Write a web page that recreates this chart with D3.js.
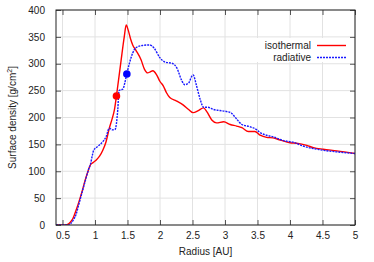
<!DOCTYPE html>
<html><head><meta charset="utf-8">
<script src="https://cdn.jsdelivr.net/npm/d3@7"></script>
<style>body{margin:0;background:#fff}svg{display:block;font-family:"Liberation Sans",Arial,sans-serif}</style>
</head><body><svg id="c" width="374" height="262"></svg>
<script>
const xTicks = [0.5,1,1.5,2,2.5,3,3.5,4,4.5,5];
const yTicks = [0,50,100,150,200,250,300,350,400];
const isoR = [0.40,0.55,0.58,0.62,0.66,0.71,0.75,0.80,0.85,0.90,0.93,0.97,1.02,1.07,1.12,1.17,1.22,1.26,1.30,1.33,1.40,1.45,1.48,1.51,1.55,1.58,1.63,1.71,1.76,1.81,1.85,1.89,1.95,2.00,2.05,2.10,2.15,2.25,2.36,2.44,2.51,2.59,2.67,2.72,2.80,2.87,2.98,3.08,3.18,3.26,3.36,3.46,3.54,3.64,3.74,3.85,4.00,4.10,4.26,4.36,4.51,4.72,5.00];
const isoV = [0,0,1,5,12,28,42,62,84,103,112,116,121,128,139,155,180,196,215,240,305,350,372,363,345,335,325,307,290,283,285,287,279,267,259,246,237,231,223,215,209,213,218,211,195,190,192,187,184,181,174,174,167,163,162,158,153,152,148,144,141,138,133];
const radR = [0.40,0.60,0.63,0.67,0.71,0.75,0.80,0.85,0.90,0.93,0.96,0.98,1.04,1.12,1.17,1.22,1.27,1.31,1.35,1.37,1.43,1.46,1.49,1.53,1.58,1.63,1.73,1.84,1.91,2.00,2.08,2.18,2.26,2.33,2.38,2.44,2.49,2.51,2.56,2.62,2.67,2.74,2.82,2.92,3.03,3.10,3.18,3.26,3.38,3.49,3.54,3.64,3.74,3.90,4.05,4.20,4.46,4.72,5.00];
const radV = [0,0,3,10,20,38,60,82,103,113,130,139,146,155,164,180,177,178,214,250,253,265,281,301,320,330,334,335,329,311,303,301,292,270,261,264,277,279,260,233,219,219,215,213,211,208,197,187,183,177,172,167,164,157,154,147,140,136,133];
const dots = [{r:1.33,v:240,c:"#ff0000"},{r:1.49,v:281,c:"#0000ff"}];
const seriesNames = ["isothermal","radiative"];

const L=56,R=355,T=10,B=225;
const svg=d3.select("#c");
const x=d3.scaleLinear().domain([0.4,5]).range([L,R]);
const y=d3.scaleLinear().domain([0,400]).range([B,T]);

// grid
const g=svg.append("g");
g.selectAll("line.vx").data(xTicks).join("line").attr("x1",d=>x(d)).attr("x2",d=>x(d)).attr("y1",T).attr("y2",B).attr("stroke","#e2e2e2").attr("stroke-width",1);
g.selectAll("line.hy").data(yTicks).join("line").attr("y1",d=>y(d)).attr("y2",d=>y(d)).attr("x1",L).attr("x2",R).attr("stroke","#e2e2e2").attr("stroke-width",1);

// axes (ticks inward)
const fmt=d=>String(d);
const ax=svg.append("g").attr("transform",`translate(0,${B})`).call(d3.axisBottom(x).tickValues(xTicks).tickFormat(fmt).tickSize(-5).tickPadding(7));
const axT=svg.append("g").attr("transform",`translate(0,${T})`).call(d3.axisTop(x).tickValues(xTicks).tickFormat("").tickSize(-5));
const ayL=svg.append("g").attr("transform",`translate(${L},0)`).call(d3.axisLeft(y).tickValues(yTicks).tickFormat(fmt).tickSize(-5).tickPadding(11));
const ayR=svg.append("g").attr("transform",`translate(${R},0)`).call(d3.axisRight(y).tickValues(yTicks).tickFormat("").tickSize(-5));
[ax,axT,ayL,ayR].forEach(a=>{a.select(".domain").remove();a.selectAll(".tick line").attr("stroke","#555");a.selectAll("text").attr("font-size",10).attr("fill","#222").attr("font-family","Liberation Sans, Arial, sans-serif");});

// legend box
svg.append("rect").attr("x",250).attr("y",38).attr("width",102).attr("height",24).attr("fill","#fff");

// lines
const line=d3.line().x(d=>x(d[0])).y(d=>y(d[1])).curve(d3.curveMonotoneX);
const clip=svg.append("clipPath").attr("id","cp").append("rect").attr("x",L).attr("y",T).attr("width",R-L).attr("height",B-T);
svg.append("path").datum(isoR.map((r,i)=>[r,isoV[i]])).attr("d",line).attr("fill","none").attr("stroke","#ff0000").attr("stroke-width",1.4).attr("clip-path","url(#cp)");
svg.append("path").datum(radR.map((r,i)=>[r,radV[i]])).attr("d",line).attr("fill","none").attr("stroke","#1a1aff").attr("stroke-width",1.4).attr("stroke-dasharray","2,1").attr("clip-path","url(#cp)");
svg.selectAll("circle.d").data(dots).join("circle").attr("cx",d=>x(d.r)).attr("cy",d=>y(d.v)).attr("r",3.8).attr("fill",d=>d.c);

// frame
svg.append("rect").attr("x",L).attr("y",T).attr("width",R-L).attr("height",B-T).attr("fill","none").attr("stroke","#222").attr("stroke-width",1);

// legend
const leg=[{n:seriesNames[0],c:"#ff0000",dash:null,y:45.5},{n:seriesNames[1],c:"#1a1aff",dash:"2,1",y:57.5}];
leg.forEach(l=>{
  svg.append("text").attr("x",311).attr("y",l.y+3.5).attr("text-anchor","end").attr("font-size",10).attr("fill","#222").text(l.n);
  svg.append("line").attr("x1",317).attr("x2",346).attr("y1",l.y).attr("y2",l.y).attr("stroke",l.c).attr("stroke-width",1.4).attr("stroke-dasharray",l.dash);
});

// axis labels
svg.append("text").attr("x",(L+R)/2).attr("y",255).attr("text-anchor","middle").attr("font-size",10).attr("fill","#222").text("Radius [AU]");
const yl=svg.append("text").attr("transform",`translate(16,${(T+B)/2}) rotate(-90)`).attr("text-anchor","middle").attr("font-size",10).attr("fill","#222");
yl.append("tspan").text("Surface density [g/cm");
yl.append("tspan").attr("font-size",7).attr("dy",-4).text("2");
yl.append("tspan").attr("dy",4).text("]");
</script></body></html>
